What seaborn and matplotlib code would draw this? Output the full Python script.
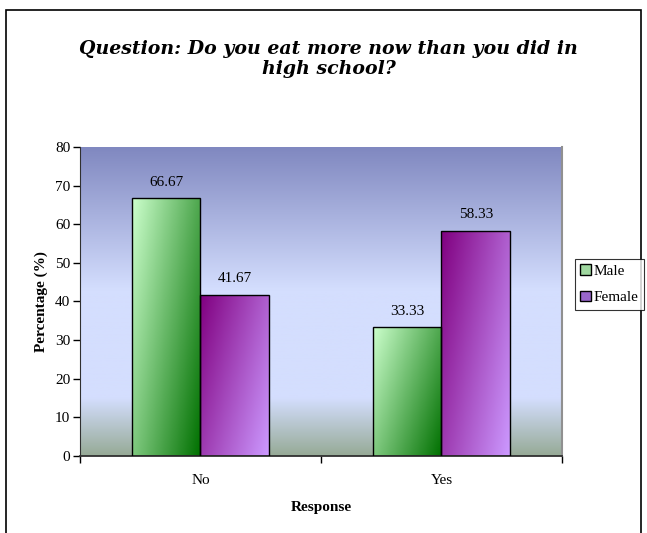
import numpy as np
import pandas as pd
import matplotlib
matplotlib.use('Agg')
import matplotlib.pyplot as plt
import seaborn as sns
from matplotlib.patches import Patch, Rectangle

# chart data
responses = ['No', 'Yes']
genders = ['Male', 'Female']
male_pct = [66.67, 33.33]
female_pct = [41.67, 58.33]

df = pd.DataFrame({
    'Response': responses * 2,
    'Gender': ['Male'] * 2 + ['Female'] * 2,
    'Percentage': male_pct + female_pct,
})

sns.set_style('white')
plt.rcParams['font.family'] = ['Liberation Serif', 'DejaVu Serif']
for key in ['text.color', 'axes.labelcolor', 'xtick.color', 'ytick.color']:
    plt.rcParams[key] = 'black'

fig = plt.figure(figsize=(6.47, 5.33), dpi=100)
ax = fig.add_axes([0.1236, 0.1445, 0.745, 0.5797])

sns.barplot(data=df, x='Response', y='Percentage', hue='Gender', order=responses,
            hue_order=genders, width=0.57, palette=['#a0d8a0', '#9966cc'],
            edgecolor='black', linewidth=1, legend=False, ax=ax)

# plot area background gradient (Excel style)
def hex2rgb(h):
    return np.array([int(h[i:i + 2], 16) for i in (1, 3, 5)]) / 255.0

stops_v = [0, 15, 43, 80]
stops_c = [hex2rgb(c) for c in ['#96aa96', '#d4defe', '#d4defe', '#8088c0']]
vals = np.linspace(0, 80, 400)
bg = np.zeros((400, 1, 3))
for k in range(3):
    bg[:, 0, k] = np.interp(vals, stops_v, [c[k] for c in stops_c])
ax.imshow(bg, extent=[-0.5, 1.5, 0, 80], origin='lower', aspect='auto', zorder=0)

# diagonal gradient fills for bars
gx, gy = np.meshgrid(np.linspace(0, 1, 60), np.linspace(0, 1, 120))
tt = np.clip(0.62 * gx + 0.38 * (1 - gy), 0, 1)

def grad_img(c0, c1):
    a, b = hex2rgb(c0), hex2rgb(c1)
    return a[None, None, :] * (1 - tt[..., None]) + b[None, None, :] * tt[..., None]

bar_grads = [grad_img('#ccffcc', '#007000'), grad_img('#800080', '#cc99ff')]
for cont, img in zip(ax.containers, bar_grads):
    for p in cont.patches:
        x0, y0 = p.get_x(), p.get_y()
        w, h = p.get_width(), p.get_height()
        im = ax.imshow(img, extent=[x0, x0 + w, y0, y0 + h], origin='lower',
                       aspect='auto', zorder=2)
        im.set_clip_path(p)
        p.set_facecolor('none')
        p.set_zorder(3)
    ax.bar_label(cont, fmt='%.2f', padding=7, fontsize=11)

ax.set_xlim(-0.5, 1.5)
ax.set_ylim(0, 80)

# axes styling
ax.set_yticks(range(0, 81, 10))
ax.tick_params(axis='y', left=True, length=5, width=1, labelsize=11, pad=2)
ax.set_xticks([0, 1])
ax.set_xticklabels(responses)
ax.set_xticks([-0.5, 0.5, 1.5], minor=True)
ax.tick_params(axis='x', which='major', length=0, labelsize=11, pad=13)
ax.tick_params(axis='x', which='minor', bottom=True, length=5, width=1)
ax.spines['top'].set_visible(False)
ax.spines['right'].set_color('#909090')
ax.spines['right'].set_linewidth(1.5)
ax.spines['left'].set_color('#303030')
ax.spines['bottom'].set_color('#303030')
ax.spines['bottom'].set_linewidth(1.3)

ax.set_xlabel('Response', fontsize=11, fontweight='bold', labelpad=10)
ax.set_ylabel('Percentage (%)', fontsize=11, fontweight='bold', labelpad=5)

fig.text(0.508, 0.89, 'Question: Do you eat more now than you did in\nhigh school?',
         ha='center', va='center', multialignment='center', fontsize=13.6,
         fontweight='bold', fontstyle='italic', family='DejaVu Serif', linespacing=1.15)

handles = [Patch(facecolor='#a0d8a0', edgecolor='black', label='Male'),
           Patch(facecolor='#9966cc', edgecolor='black', label='Female')]
leg = fig.legend(handles=handles, loc='center left', bbox_to_anchor=(0.888, 0.467),
                 frameon=True, fancybox=False, fontsize=11, handlelength=0.7,
                 handleheight=0.7, handletextpad=0.2, borderpad=0.35, labelspacing=0.85,
                 borderaxespad=0)
leg.get_frame().set_edgecolor('black')
leg.get_frame().set_linewidth(0.8)

# outer chart frame
fig.patches.append(Rectangle((6 / 647, -0.02), 635 / 647, 1.02 - 10 / 533, transform=fig.transFigure,
                             fill=False, edgecolor='black', linewidth=1.2))

fig.savefig('out.png', dpi=100)
